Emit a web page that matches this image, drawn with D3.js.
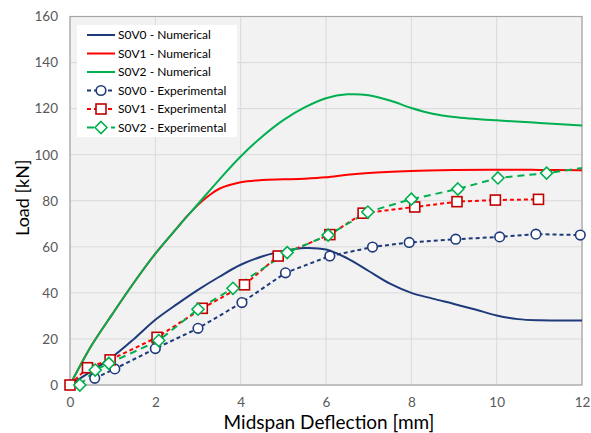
<!DOCTYPE html>
<html>
<head>
<meta charset="utf-8">
<script src="https://cdn.jsdelivr.net/npm/d3@7"></script>
<style>
  body { margin: 0; background: #fff; }
  svg text { font-family: Lato, "Open Sans", sans-serif; }
</style>
</head>
<body>
<div id="chart"></div>
<script>
// numerical curves (deflection mm, load kN)
var s0v0Num = [[0,0],[0.5,6],[1,12.3],[1.5,20],[2,28.3],[2.5,35],[3,41.3],[3.5,47],[4,52.2],[4.5,55.8],[5,58.2],[5.5,59.5],[6,58.8],[6.5,55],[7,49.5],[7.5,44],[8,40],[8.5,37.5],[9,35.2],[9.5,32.8],[10,30.2],[10.5,28.6],[11,28.1],[12,28]];
var s0v1Num = [[0,0],[0.5,17],[1,31],[1.5,44.5],[2,57],[2.5,68],[2.75,73.4],[3,78.2],[3.25,82.2],[3.5,85.2],[4,88],[4.5,89],[5,89.3],[5.5,89.6],[6,90.2],[6.5,91.3],[7,92.1],[8,92.9],[9,93.3],[10,93.5],[11,93.4],[12,93.2]];
var s0v2Num = [[0,0],[0.5,17],[1,31],[1.5,44.5],[2,57],[2.5,68],[3,78.6],[3.5,89.2],[4,99.2],[4.5,107.8],[5,115],[5.5,120.5],[6,124.5],[6.5,126.2],[7,125.8],[7.5,123.5],[8,120.3],[8.5,117.8],[9,116.4],[10,114.9],[11,113.8],[12,112.7]];

// experimental points
var s0v0Exp = [[0.58,2.9],[1.05,7],[2.0,15.8],[3.0,24.6],[4.03,35.8],[5.05,48.7],[6.09,56],[7.09,59.9],[7.95,61.9],[9.04,63.3],[10.07,64.3],[10.92,65.5],[11.96,65.1]];
var s0v1Exp = [[0,0],[0.41,7.5],[0.94,10.9],[2.04,20.7],[3.1,33.3],[4.09,43.5],[4.88,56],[6.09,65.3],[6.87,74.6],[8.08,77.3],[9.07,79.6],[9.97,80.3],[10.98,80.6]];
var s0v2Exp = [[0.23,0],[0.59,6.5],[0.91,9.4],[2.08,19.3],[3.0,32.9],[3.82,42],[5.09,57.5],[6.05,65.1],[6.98,75.1],[8.0,80.7],[9.09,85.1],[10.03,89.9],[11.17,92],[12.3,95]];

var xTicks = [0,2,4,6,8,10,12];
var yTicks = [0,20,40,60,80,100,120,140,160];

var W = 591, H = 433;
var margin = {left: 70, right: 9, top: 16.5, bottom: 48};

var navy = '#1f3a7a', red = '#ff0000', green = '#00b050', darkRed = '#c00000';

var svg = d3.select('#chart').append('svg').attr('width', W).attr('height', H);

var x = d3.scaleLinear().domain([0,12]).range([margin.left, W - margin.right]);
var y = d3.scaleLinear().domain([0,160]).range([H - margin.bottom, margin.top]);

svg.append('clipPath').attr('id','plotclip').append('rect')
    .attr('x', x(0)).attr('y', y(160)).attr('width', x(12)-x(0)).attr('height', y(0)-y(160));

// plot background
svg.append('rect').attr('x', x(0)).attr('y', y(160))
    .attr('width', x(12)-x(0)).attr('height', y(0)-y(160))
    .attr('fill', '#f2f2f2');

// grid
svg.append('g').selectAll('line').data(yTicks).enter().append('line')
    .attr('x1', x(0)).attr('x2', x(12))
    .attr('y1', function(d){ return y(d); }).attr('y2', function(d){ return y(d); })
    .attr('stroke', '#d9d9d9').attr('stroke-width', 1);
svg.append('g').selectAll('line').data(xTicks).enter().append('line')
    .attr('y1', y(0)).attr('y2', y(160))
    .attr('x1', function(d){ return x(d); }).attr('x2', function(d){ return x(d); })
    .attr('stroke', '#d9d9d9').attr('stroke-width', 1);

// frame
svg.append('rect').attr('x', x(0)).attr('y', y(160))
    .attr('width', x(12)-x(0)).attr('height', y(0)-y(160))
    .attr('fill', 'none').attr('stroke', '#a6a6a6').attr('stroke-width', 1.2);

// axes (tick labels only)
var xAxis = svg.append('g').attr('transform', 'translate(0,' + y(0) + ')')
    .call(d3.axisBottom(x).tickValues(xTicks).tickSize(0).tickPadding(12));
var yAxis = svg.append('g').attr('transform', 'translate(' + x(0) + ',0)')
    .call(d3.axisLeft(y).tickValues(yTicks).tickSize(0).tickPadding(12));
[xAxis, yAxis].forEach(function(a){
    a.select('.domain').remove();
    a.selectAll('text').attr('fill', '#595959').style('font-size', '13.5px')
        .style('font-family', 'Lato, "Open Sans", sans-serif');
});

// axis titles
svg.append('text').attr('x', (x(0)+x(12))/2 + 3).attr('y', 429)
    .attr('text-anchor', 'middle').style('font-size', '19px').attr('fill', '#000')
    .text('Midspan Deflection [mm]');
svg.append('text').attr('transform', 'translate(29,' + ((y(0)+y(160))/2 - 3) + ') rotate(-90)')
    .attr('text-anchor', 'middle').style('font-size', '18px').attr('fill', '#000')
    .text('Load [kN]');

var plot = svg.append('g').attr('clip-path', 'url(#plotclip)');

var smooth = d3.line().x(function(d){ return x(d[0]); }).y(function(d){ return y(d[1]); }).curve(d3.curveCatmullRom.alpha(0.5));
var straight = d3.line().x(function(d){ return x(d[0]); }).y(function(d){ return y(d[1]); });

plot.append('path').attr('d', smooth(s0v0Num)).attr('fill','none').attr('stroke', navy).attr('stroke-width', 2);
plot.append('path').attr('d', smooth(s0v1Num)).attr('fill','none').attr('stroke', red).attr('stroke-width', 2);
plot.append('path').attr('d', smooth(s0v2Num)).attr('fill','none').attr('stroke', green).attr('stroke-width', 2);

plot.append('path').attr('d', straight(s0v0Exp)).attr('fill','none').attr('stroke', navy).attr('stroke-width', 2).attr('stroke-dasharray', '4,3');
plot.append('path').attr('d', straight(s0v1Exp)).attr('fill','none').attr('stroke', red).attr('stroke-width', 2).attr('stroke-dasharray', '4,3');
plot.append('path').attr('d', straight(s0v2Exp)).attr('fill','none').attr('stroke', green).attr('stroke-width', 2).attr('stroke-dasharray', '7,5');

function drawMarker(g, kind, cx, cy) {
    if (kind == 'circle') {
        g.append('circle').attr('cx', cx).attr('cy', cy).attr('r', 4.8)
            .attr('fill', '#fff').attr('stroke', navy).attr('stroke-width', 1.6);
    } else if (kind == 'square') {
        g.append('rect').attr('x', cx-5).attr('y', cy-5).attr('width', 10).attr('height', 10)
            .attr('fill', '#fff').attr('stroke', darkRed).attr('stroke-width', 1.6);
    } else {
        g.append('path').attr('d', 'M' + cx + ',' + (cy-6) + 'L' + (cx+6) + ',' + cy + 'L' + cx + ',' + (cy+6) + 'L' + (cx-6) + ',' + cy + 'Z')
            .attr('fill', '#fff').attr('stroke', green).attr('stroke-width', 1.6);
    }
}

// markers are not clipped, but only those inside the x range are shown
var marks = svg.append('g');
function inRange(d){ return d[0] <= 12; }
s0v0Exp.filter(inRange).forEach(function(d){ drawMarker(marks, 'circle', x(d[0]), y(d[1])); });
s0v1Exp.filter(inRange).forEach(function(d){ drawMarker(marks, 'square', x(d[0]), y(d[1])); });
s0v2Exp.filter(inRange).forEach(function(d){ drawMarker(marks, 'diamond', x(d[0]), y(d[1])); });

// legend
var legendItems = [
    {label: 'S0V0 - Numerical', color: navy, dash: null, marker: null},
    {label: 'S0V1 - Numerical', color: red, dash: null, marker: null},
    {label: 'S0V2 - Numerical', color: green, dash: null, marker: null},
    {label: 'S0V0 - Experimental', color: navy, dash: '4,3', marker: 'circle'},
    {label: 'S0V1 - Experimental', color: red, dash: '4,3', marker: 'square'},
    {label: 'S0V2 - Experimental', color: green, dash: '7,5', marker: 'diamond'}
];
var lg = svg.append('g');
lg.append('rect').attr('x', 77).attr('y', 25).attr('width', 160).attr('height', 112).attr('fill', '#fff');
legendItems.forEach(function(it, i){
    var ly = 35 + i * 18.5;
    lg.append('line').attr('x1', 87).attr('x2', 115).attr('y1', ly).attr('y2', ly)
        .attr('stroke', it.color).attr('stroke-width', 2)
        .attr('stroke-dasharray', it.dash);
    if (it.marker) drawMarker(lg, it.marker, 101, ly);
    lg.append('text').attr('x', 118).attr('y', ly + 4).style('font-size', '12px').attr('fill', '#000')
        .text(it.label);
});
</script>
</body>
</html>
